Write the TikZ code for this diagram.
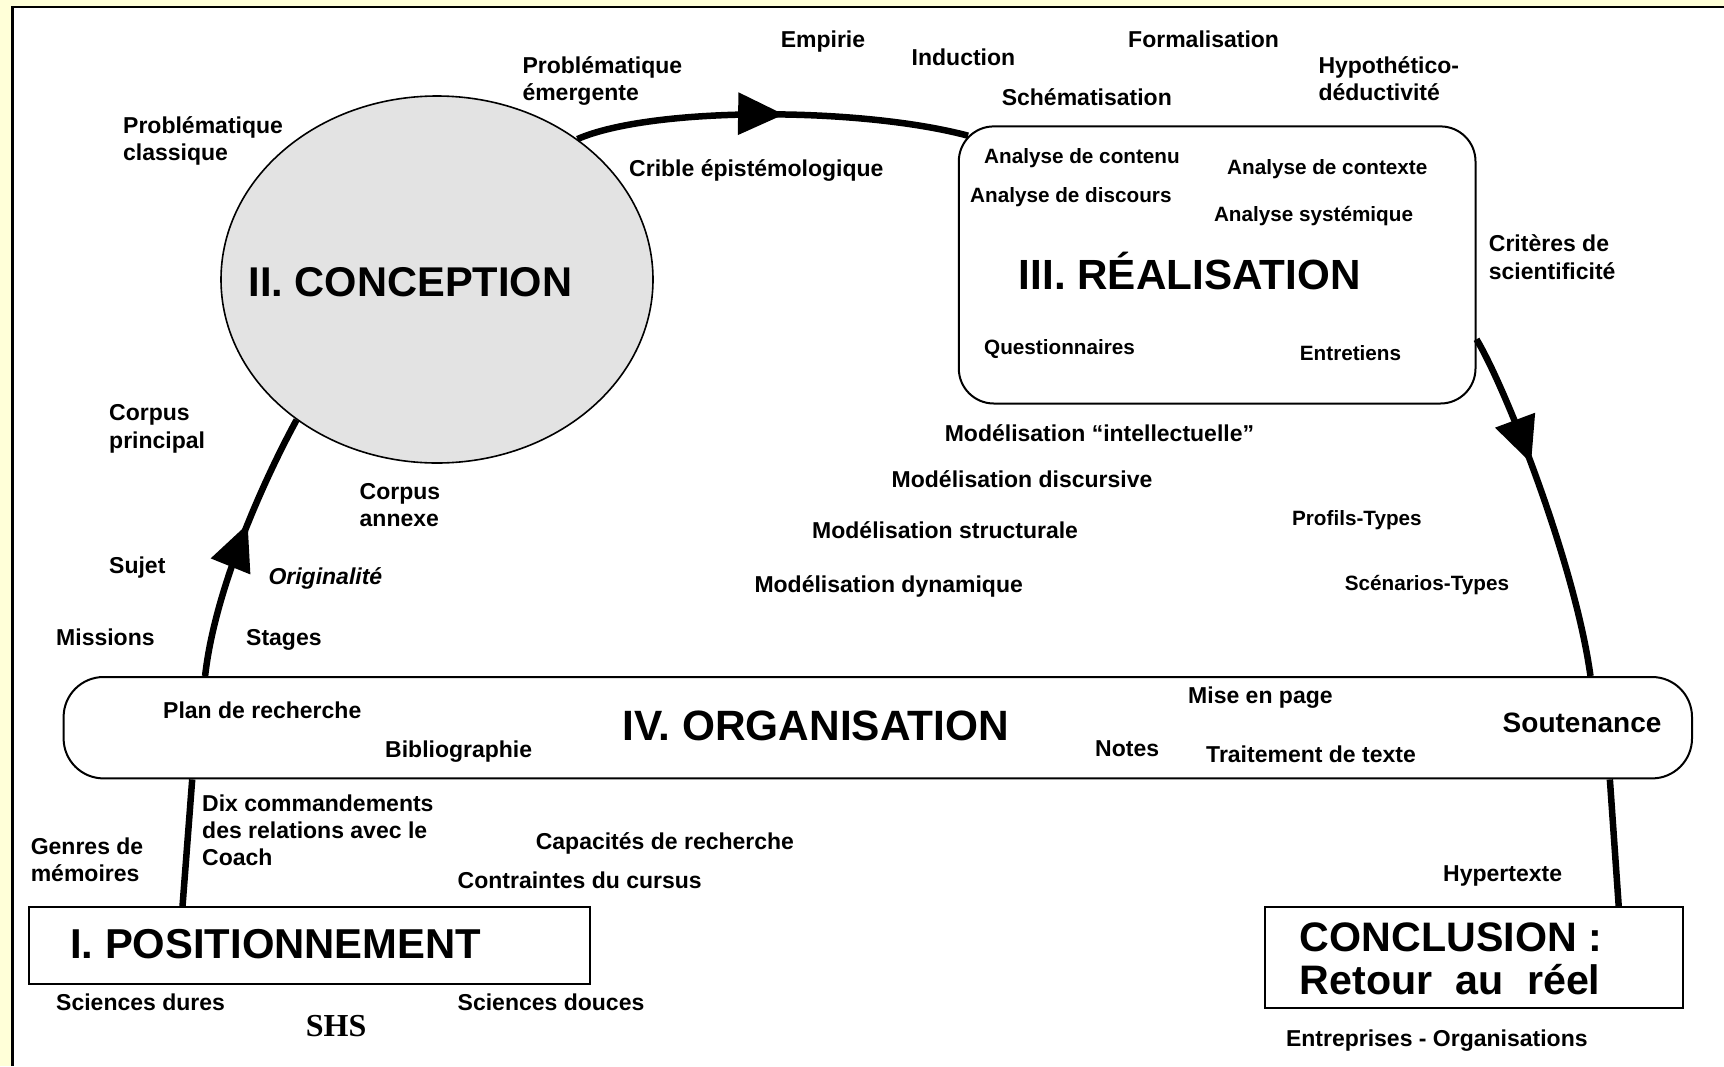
\documentclass[tikz,border=0pt]{standalone}
\usepackage{fontspec}
\setmainfont{Liberation Sans}
\newfontfamily\shsfont{Liberation Serif}
\usetikzlibrary{shapes.geometric,arrows.meta,decorations.markings,calc}

\definecolor{bgyellow}{RGB}{255,255,216}
\definecolor{ellgrey}{RGB}{227,227,227}

\newcommand\ftlbl{\fontsize{23}{27}\selectfont\bfseries}
\newcommand\ftsml{\fontsize{20.7}{24}\selectfont\bfseries}

\begin{document}
\begin{tikzpicture}[x=1pt,y=-1pt,
  lbl/.style={font=\ftlbl, anchor=base west, inner sep=0pt},
  slbl/.style={font=\ftsml, anchor=base west, inner sep=0pt},
  ttl/.style={anchor=base west, inner sep=0pt, font=\fontsize{#1}{#1}\selectfont\bfseries},
  boxrect/.style={draw, line width=2pt, fill=white, inner sep=0pt},
  conn/.style={line width=6.5pt},
  midarrow/.style={postaction={decorate}, decoration={markings,
      mark=at position #1 with {\arrow{Triangle[length=46pt,width=41pt]}}}}
]
\useasboundingbox (0,0) rectangle (1724,1066);
% background and frame
\fill[bgyellow] (0,0) rectangle (1724,1066);
\fill[white] (12.5,7) rectangle (1724,1066);
\draw[line width=2.4pt] (12.5,1066) -- (12.5,7) -- (1724,7);

% main shapes
\node[draw, line width=1.6pt, fill=ellgrey, ellipse, minimum width=432pt, minimum height=367pt, inner sep=0pt] (concept) at (437,279.5) {};
\node[boxrect, rounded corners=35pt, minimum width=516.7pt, minimum height=277.1pt] (real) at (1217.15,264.95) {};
\node[boxrect, rounded corners=40pt, minimum width=1628.4pt, minimum height=101.4pt] (org) at (877.8,727.7) {};
\node[boxrect, minimum width=561.8pt, minimum height=76.5pt] (pos) at (309.5,945.25) {};
\node[boxrect, minimum width=418.1pt, minimum height=101.3pt] (conc) at (1473.55,957.65) {};

% connectors
\draw[conn] ($(pos.north west)!0.2748!(pos.north east)$) -- ($(org.south west)!0.0795!(org.south east)$);
\draw[conn, midarrow=0.58] ($(org.north west)!0.0874!(org.north east)$) .. controls +(10,-90) and +(-30,55) .. (concept.225.5);
\draw[conn, midarrow=0.53] (concept.45) .. controls +(74,-32.5) and +(-109,-29) .. ($(real.north west)+(10.3,10.3)$);
\draw[conn, midarrow=0.38] (real.-16.8) .. controls +(30,50) and +(-15,-110) .. ($(org.north west)!0.9371!(org.north east)$);
\draw[conn] ($(org.south west)!0.9490!(org.south east)$) -- ($(conc.north west)!0.8455!(conc.north east)$);

% titles
\node[ttl=41.6] (tconc) at (248.5,296) {II. CONCEPTION};
\node[ttl=42.2] (treal) at (1018.7,289.5) {III. RÉALISATION};
\node[ttl=42.4] (torg) at (622.3,740) {IV. ORGANISATION};
\node[ttl=41.8] (tpos) at (70,958.3) {I. POSITIONNEMENT};
\node[ttl=41.2] (tcl1) at (1299.7,951.7) {CONCLUSION :};
\node[ttl=41.2] (tcl2) at (1299.7,994) {\makebox[300.5pt][s]{Retour au réel}};

% top labels
\node[lbl] (pc1) at (123,133) {Problématique};
\node[lbl] (pc2) at (123,160) {classique};
\node[lbl] (pe1) at (522.3,73) {Problématique};
\node[lbl] (pe2) at (522.3,100.5) {émergente};
\node[lbl] (emp) at (780.6,47.7) {Empirie};
\node[lbl] (ind) at (911.5,65.3) {Induction};
\node[lbl] (form) at (1128,47.7) {Formalisation};
\node[lbl] (hyp1) at (1318.3,73) {Hypothético-};
\node[lbl] (hyp2) at (1318.3,100.5) {déductivité};
\node[lbl] (schem) at (1001.6,105) {Schématisation};
\node[lbl] (crible) at (629,176.5) {Crible épistémologique};
\node[lbl] (crit1) at (1488.7,251.3) {Critères de};
\node[lbl] (crit2) at (1488.7,279) {scientificité};

% inside realisation
\node[slbl] (ac) at (984,163.8) {Analyse de contenu};
\node[slbl] (actx) at (1227,174.8) {Analyse de contexte};
\node[slbl] (ad) at (970,202.8) {Analyse de discours};
\node[slbl] (asys) at (1213.8,221.3) {Analyse systémique};
\node[slbl] (quest) at (984,354) {Questionnaires};
\node[slbl] (entret) at (1299.7,360.5) {Entretiens};

% left labels
\node[lbl] (cp1) at (109,420.7) {Corpus};
\node[lbl] (cp2) at (109,448.3) {principal};
\node[lbl] (ca1) at (359.5,499.5) {Corpus};
\node[lbl] (ca2) at (359.5,526.8) {annexe};
\node[lbl] (sujet) at (109,573.3) {Sujet};
\node[lbl, font=\ftlbl\itshape] (orig) at (268.3,584.5) {Originalité};
\node[lbl] (miss) at (56,645.5) {Missions};
\node[lbl] (stag) at (246,645) {Stages};

% middle labels
\node[lbl] (m1) at (944.6,441.5) {Modélisation “intellectuelle”};
\node[lbl] (m2) at (891.5,487.4) {Modélisation discursive};
\node[lbl] (m3) at (812,538.2) {Modélisation structurale};
\node[lbl] (m4) at (754.3,592.5) {Modélisation dynamique};
\node[slbl] (prof) at (1291.9,525) {Profils-Types};
\node[slbl] (scen) at (1344.7,590) {Scénarios-Types};

% organisation labels
\node[lbl] (plan) at (163,718.5) {Plan de recherche};
\node[lbl] (biblio) at (385,757.5) {Bibliographie};
\node[lbl] (mise) at (1188,703.2) {Mise en page};
\node[lbl] (notes) at (1095,756.8) {Notes};
\node[lbl] (trait) at (1206,762) {Traitement de texte};
\node[ttl=28] (sout) at (1502.5,732.5) {Soutenance};

% bottom labels
\node[lbl] (dix1) at (202,811.3) {Dix commandements};
\node[lbl] (dix2) at (202,838.3) {des relations avec le};
\node[lbl] (dix3) at (202,865.3) {Coach};
\node[lbl] (gen1) at (30.6,854.3) {Genres de};
\node[lbl] (gen2) at (30.6,881.5) {mémoires};
\node[lbl] (capa) at (535.6,849.3) {Capacités de recherche};
\node[lbl] (contr) at (457.5,888) {Contraintes du cursus};
\node[lbl] (hyper) at (1443,881.5) {Hypertexte};
\node[lbl] (scd) at (56,1010.8) {Sciences dures};
\node[lbl] (scdo) at (457.5,1010.8) {Sciences douces};
\node[anchor=base west, inner sep=0pt, font=\shsfont\fontsize{32}{32}\selectfont\bfseries] (shs) at (305.7,1036.7) {SHS};
\node[lbl] (entr) at (1285.8,1046) {Entreprises - Organisations};
\end{tikzpicture}
\end{document}
